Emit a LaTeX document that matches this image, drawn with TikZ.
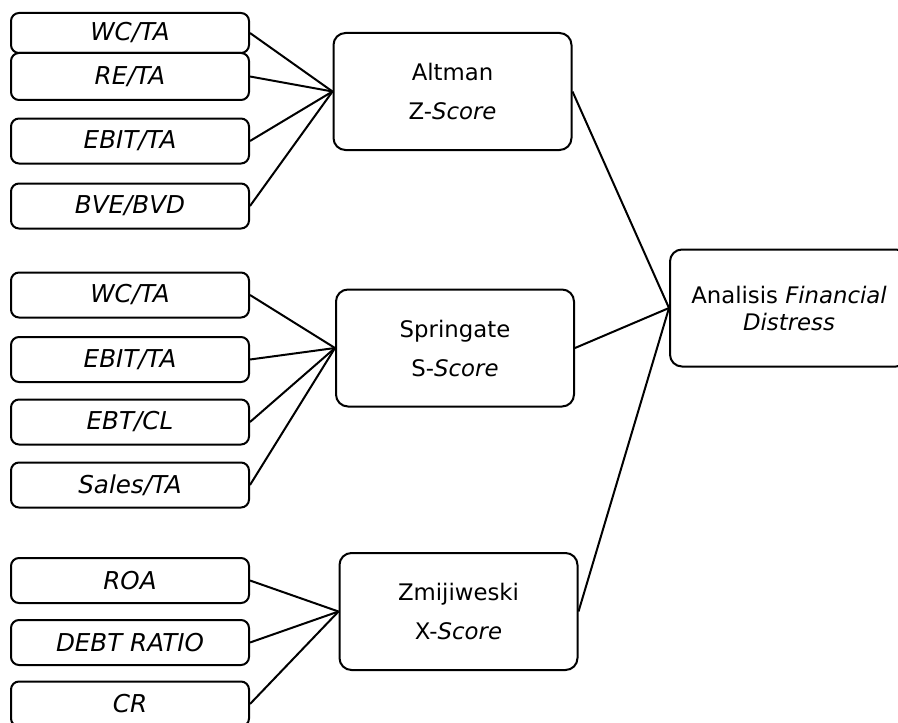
\documentclass[tikz,border=0pt]{standalone}
\usepackage{fontspec}
\setmainfont{DejaVu Sans}

\tikzset{
  ratio/.style={draw, line width=1pt, rounded corners=4pt, minimum width=119pt,
    minimum height=22.5pt, inner sep=0pt, font=\fontsize{12.3}{14}\selectfont\itshape},
  model/.style={draw, line width=1pt, rounded corners=6pt, minimum width=119pt,
    minimum height=58.5pt, inner sep=0pt, align=center, font=\fontsize{11.4}{19.5}\selectfont},
  link/.style={line width=1pt}
}

\begin{document}
\begin{tikzpicture}[x=0.5pt,y=-0.5pt]
\useasboundingbox (0,0) rectangle (898,722);

% Altman
\node[ratio, minimum height=20pt] (wcA) at (130,33) {WC/TA};
\node[ratio, minimum height=23.5pt] (reA) at (130,76.5) {RE/TA};
\node[ratio] (ebitA) at (130,141) {EBIT/TA};
\node[ratio] (bveA) at (130,206) {BVE/BVD};
\node[model] (altman) at (452.5,91.5) {Altman\\Z-\textit{Score}};

% Springate
\node[ratio] (wcB) at (130,295) {WC/TA};
\node[ratio] (ebitB) at (130,359.5) {EBIT/TA};
\node[ratio] (ebtB) at (130,422) {EBT/CL};
\node[ratio] (salesB) at (130,485) {Sales/TA};
\node[model] (springate) at (455,348) {Springate\\S-\textit{Score}};

% Zmijiweski
\node[ratio] (roaC) at (130,580.5) {ROA};
\node[ratio] (debtC) at (130,642.5) {DEBT RATIO};
\node[ratio] (crC) at (130,704) {CR};
\node[model] (zmij) at (458.5,611.5) {Zmijiweski\\X-\textit{Score}};

\node[model, font=\fontsize{11.4}{13.5}\selectfont] (analisis) at (789,308)
  {Analisis \textit{Financial}\\\textit{Distress}};

\foreach \r in {wcA,reA,ebitA,bveA}
  \draw[link] (\r.east) -- (altman.west);
\foreach \r in {wcB,ebitB,ebtB,salesB}
  \draw[link] (\r.east) -- (springate.west);
\foreach \r in {roaC,debtC,crC}
  \draw[link] (\r.east) -- (zmij.west);
\foreach \m in {altman,springate,zmij}
  \draw[link] (\m.east) -- (analisis.west);
\end{tikzpicture}
\end{document}
